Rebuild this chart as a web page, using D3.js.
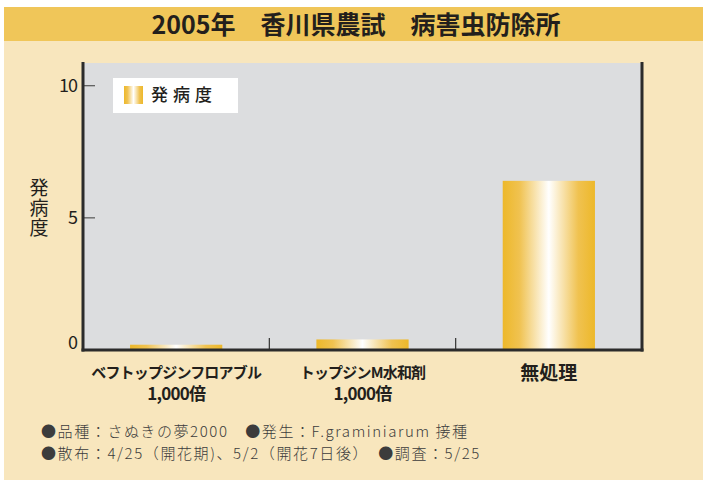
<!DOCTYPE html>
<html>
<head>
<meta charset="utf-8">
<script src="https://cdn.jsdelivr.net/npm/d3@7"></script>
<style>
  body { margin: 0; background: #fff; }
  text { font-family: "Noto Sans CJK JP", "Noto Sans", sans-serif; }
</style>
</head>
<body>
<script>
// data
var categories = ["ベフトップジンフロアブル", "トップジンM水和剤", "無処理"];
var dilution = ["1,000倍", "1,000倍", ""];
var values = [0.2, 0.4, 6.4];
var yTicks = [0, 5, 10];

var width = 703, height = 480;
var pLeft = 83, pRight = 642, pTop = 63, pBottom = 350;

var svg = d3.select("body").append("svg")
    .attr("width", width)
    .attr("height", height);

var defs = svg.append("defs");
var grad = defs.append("linearGradient")
    .attr("id", "gold")
    .attr("x1", "0%").attr("x2", "100%").attr("y1", "0%").attr("y2", "0%");
grad.append("stop").attr("offset", "0%").attr("stop-color", "#edb82a");
grad.append("stop").attr("offset", "18%").attr("stop-color", "#f0c250");
grad.append("stop").attr("offset", "50%").attr("stop-color", "#ffffff");
grad.append("stop").attr("offset", "82%").attr("stop-color", "#f0c250");
grad.append("stop").attr("offset", "100%").attr("stop-color", "#edb82a");

// backgrounds
svg.append("rect").attr("x", 4).attr("y", 41).attr("width", width - 4).attr("height", height - 41)
    .attr("fill", "#f8e6bd");
svg.append("rect").attr("x", 4).attr("y", 7).attr("width", width - 4).attr("height", 34)
    .attr("fill", "#f0c659");
svg.append("text")
    .attr("x", 356).attr("y", 34)
    .attr("text-anchor", "middle")
    .attr("font-size", 25).attr("font-weight", 700)
    .attr("fill", "#231f1c")
    .text("2005年　香川県農試　病害虫防除所");

svg.append("rect").attr("x", pLeft).attr("y", pTop).attr("width", pRight - pLeft).attr("height", pBottom - pTop)
    .attr("fill", "#dcdddf");

var x = d3.scaleBand()
    .domain(categories)
    .range([pLeft, pRight])
    .paddingInner(0.505)
    .paddingOuter(0.2525);

var y = d3.scaleLinear()
    .domain([0, 10])
    .range([pBottom, 85.7]);

// bars
svg.selectAll(".bar")
    .data(values)
    .join("rect")
    .attr("class", "bar")
    .attr("x", (d, i) => x(categories[i]))
    .attr("width", x.bandwidth())
    .attr("y", d => y(d))
    .attr("height", d => y(0) - y(d))
    .attr("fill", "url(#gold)");

// y ticks
svg.selectAll(".ytick")
    .data(yTicks)
    .join("line")
    .attr("class", "ytick")
    .attr("x1", pLeft).attr("x2", pLeft + 12)
    .attr("y1", d => y(d)).attr("y2", d => y(d))
    .attr("stroke", "#555").attr("stroke-width", 1.2);

svg.selectAll(".ylab")
    .data(yTicks)
    .join("text")
    .attr("class", "ylab")
    .attr("x", 77)
    .attr("y", d => d == 0 ? y(d) - 7 : y(d))
    .attr("dy", "0.36em")
    .attr("text-anchor", "end")
    .attr("font-size", 18)
    .attr("letter-spacing", -1)
    .attr("fill", "#231f1c")
    .text(d => d);

// category separators
var seps = categories.slice(1).map(c => x(c) - x.step() * x.paddingInner() / 2);
svg.selectAll(".sep")
    .data(seps)
    .join("line")
    .attr("class", "sep")
    .attr("x1", d => d).attr("x2", d => d)
    .attr("y1", pBottom - 12).attr("y2", pBottom)
    .attr("stroke", "#333").attr("stroke-width", 1.2);

// axes frame
svg.append("line").attr("x1", pLeft).attr("x2", pLeft).attr("y1", pTop - 1).attr("y2", pBottom + 1.5)
    .attr("stroke", "#2b2b2b").attr("stroke-width", 3);
svg.append("line").attr("x1", pRight).attr("x2", pRight).attr("y1", pTop - 1).attr("y2", pBottom + 1.5)
    .attr("stroke", "#2b2b2b").attr("stroke-width", 3);
svg.append("line").attr("x1", pLeft - 1.5).attr("x2", pRight + 1.5).attr("y1", pBottom).attr("y2", pBottom)
    .attr("stroke", "#2b2b2b").attr("stroke-width", 3);

// y title, one text set vertically
svg.append("text")
    .attr("x", 39)
    .attr("y", 178)
    .attr("font-size", 19)
    .attr("letter-spacing", 1)
    .attr("fill", "#231f1c")
    .style("writing-mode", "vertical-rl")
    .style("text-orientation", "upright")
    .text("発病度");

// legend
svg.append("rect").attr("x", 113).attr("y", 78).attr("width", 125).attr("height", 35).attr("fill", "#fff");
svg.append("rect").attr("x", 124).attr("y", 86).attr("width", 19).attr("height", 18).attr("fill", "url(#gold)");
svg.append("text").attr("x", 151).attr("y", 95).attr("dy", "0.36em")
    .attr("font-size", 17).attr("font-weight", 500).attr("letter-spacing", 5)
    .attr("fill", "#231f1c")
    .text("発病度");

// x labels
svg.selectAll(".xlab")
    .data(categories)
    .join("text")
    .attr("class", "xlab")
    .attr("x", d => x(d) + x.bandwidth() / 2)
    .attr("y", 373)
    .attr("dy", "0.36em")
    .attr("text-anchor", "middle")
    .attr("font-size", (d, i) => i == 2 ? 19 : 15)
    .attr("font-weight", 700)
    .attr("letter-spacing", (d, i) => i == 2 ? 0 : -0.8)
    .attr("fill", "#231f1c")
    .text(d => d);

svg.selectAll(".xlab2")
    .data(dilution)
    .join("text")
    .attr("class", "xlab2")
    .attr("x", (d, i) => x(categories[i]) + x.bandwidth() / 2)
    .attr("y", 394)
    .attr("dy", "0.36em")
    .attr("text-anchor", "middle")
    .attr("font-size", 17)
    .attr("font-weight", 700)
    .attr("letter-spacing", -0.8)
    .attr("fill", "#231f1c")
    .text(d => d);

// notes
var notes = ["●品種：さぬきの夢2000　●発生：F.graminiarum 接種",
             "●散布：4/25（開花期)、5/2（開花7日後）　●調査：5/25"];
svg.selectAll(".note")
    .data(notes)
    .join("text")
    .attr("class", "note")
    .attr("x", 41)
    .attr("y", (d, i) => 437 + i * 22)
    .attr("font-size", 15)
    .attr("font-weight", 300)
    .attr("letter-spacing", 1.6)
    .attr("fill", "#3c3c3c")
    .text(d => d);
</script>
</body>
</html>
